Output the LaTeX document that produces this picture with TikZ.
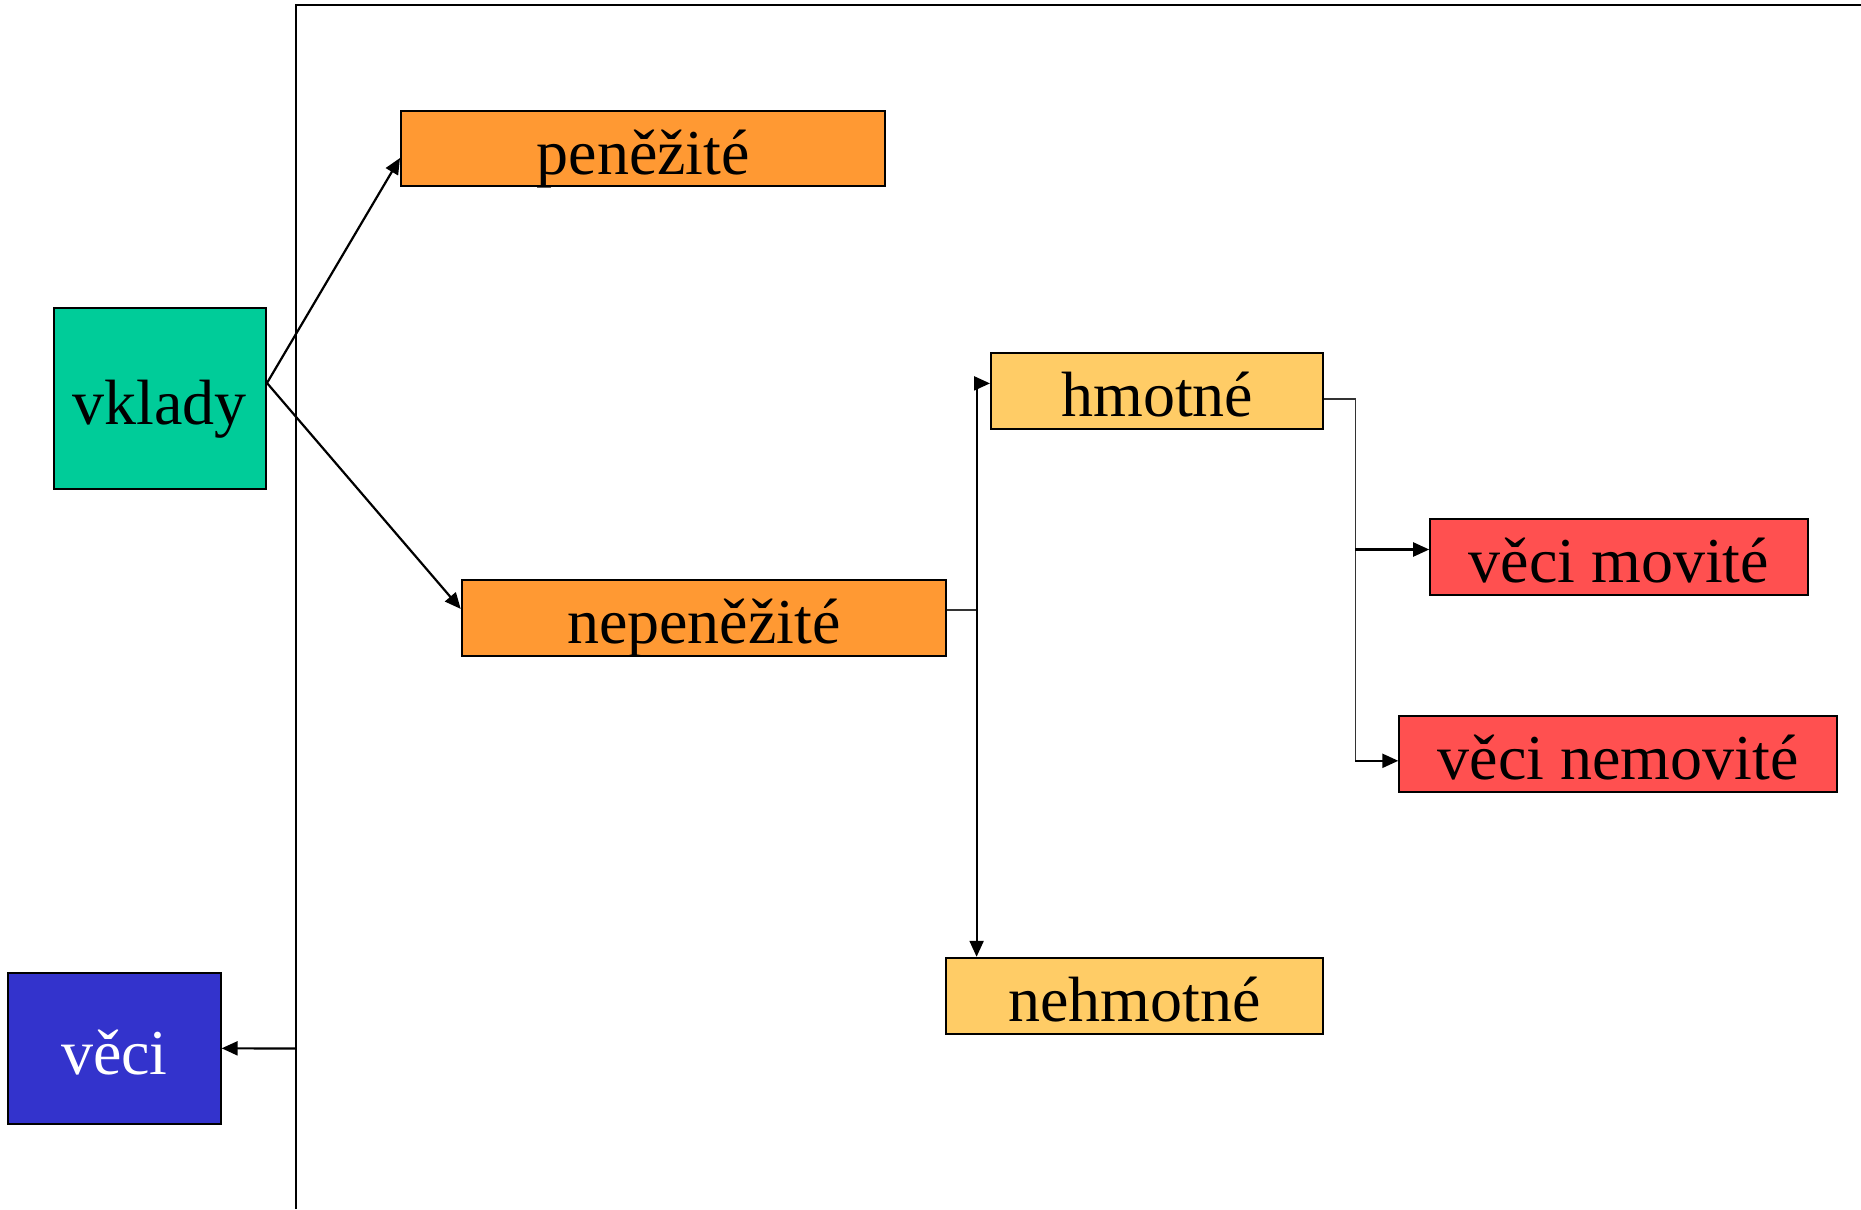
\documentclass[tikz,border=0pt]{standalone}
\usepackage{fontspec}
\setmainfont{Liberation Serif}
\usetikzlibrary{arrows.meta,calc}
\definecolor{cgreen}{HTML}{00CC99}
\definecolor{corange}{HTML}{FF9933}
\definecolor{clight}{HTML}{FFCC66}
\definecolor{cred}{HTML}{FF5050}
\definecolor{cblue}{HTML}{3333CC}
\begin{document}
\begin{tikzpicture}[x=0.5pt,y=-0.5pt,
  box/.style={draw=black,line width=1pt,inner sep=0pt,
    font=\fontsize{32}{38}\selectfont,text height=26pt,text depth=0pt},
  arr/.style={line width=1.1pt,-{Triangle[length=8pt,width=7pt]}},
  thinl/.style={line width=0.7pt,draw=black!80},
  framel/.style={line width=1.1pt}]
\useasboundingbox (0,0) rectangle (1861,1209);
% frame
\coordinate (fbot) at (296,1209);
\coordinate (ftl) at (296,5);
\coordinate (ftr) at (1861,5);
\draw[framel] (fbot) -- (ftl) -- (ftr);
% boxes
\node[box,fill=cgreen,minimum width=106.25pt,minimum height=90.9pt] (vkl) at (159.75,398.4) {vklady};
\node[box,fill=corange,minimum width=242.2pt,minimum height=37.9pt] (pen) at (643.2,148.6) {peněžité};
\node[box,fill=corange,minimum width=242.15pt,minimum height=38pt] (nep) at (703.85,617.5) {nepeněžité};
\node[box,fill=clight,minimum width=166.2pt,minimum height=38pt] (hmo) at (1157.2,390.5) {hmotné};
\node[box,fill=clight,minimum width=188.7pt,minimum height=38pt] (neh) at (1134.7,995.8) {nehmotné};
\node[box,fill=cred,minimum width=188.7pt,minimum height=38pt] (mov) at (1618.9,556.7) {věci movité};
\node[box,fill=cred,minimum width=219pt,minimum height=38pt] (nem) at (1618.3,753.7) {věci nemovité};
\node[box,fill=cblue,text=white,minimum width=106.35pt,minimum height=75.65pt] (vec) at (114.3,1048.3) {věci};
% vklady arrows
\coordinate (vklout) at ($(vkl.east)+(0,-15.4)$);
\coordinate (penin) at ($(pen.west)+(0,9.4)$);
\coordinate (nepin) at ($(nep.west)+(0,-8.6)$);
\draw[arr] (vklout) -- (penin);
\draw[arr] (vklout) -- (nepin);
% nepenezite branches
\coordinate (nepout) at ($(nep.east)+(0,-7.5)$);
\coordinate (j1) at ($(nepout)+(29.6,0)$);
\coordinate (hmoin) at ($(hmo.west)+(0,-7.1)$);
\draw[thinl] (nepout) -- (j1);
\draw[arr] (j1) -- (j1 |- hmoin) -- (hmoin);
\draw[arr] (j1) -- (j1 |- neh.north);
% hmotne branches
\coordinate (hmoout) at ($(hmo.east)+(0,8.3)$);
\coordinate (j2) at ($(hmoout)+(31,0)$);
\coordinate (movin) at ($(mov.west)+(0,-7.2)$);
\coordinate (nemin) at ($(nem.west)+(0,7.1)$);
\draw[thinl] (hmoout) -- (j2) -- (j2 |- nemin);
\draw[arr] (j2 |- movin) -- (movin);
\draw[arr] (j2 |- nemin) -- (nemin);
% veci arrow
\coordinate (vecsrc) at (296,1048.5);
\draw[arr] (vecsrc) -- (vec.east);
\end{tikzpicture}
\end{document}
